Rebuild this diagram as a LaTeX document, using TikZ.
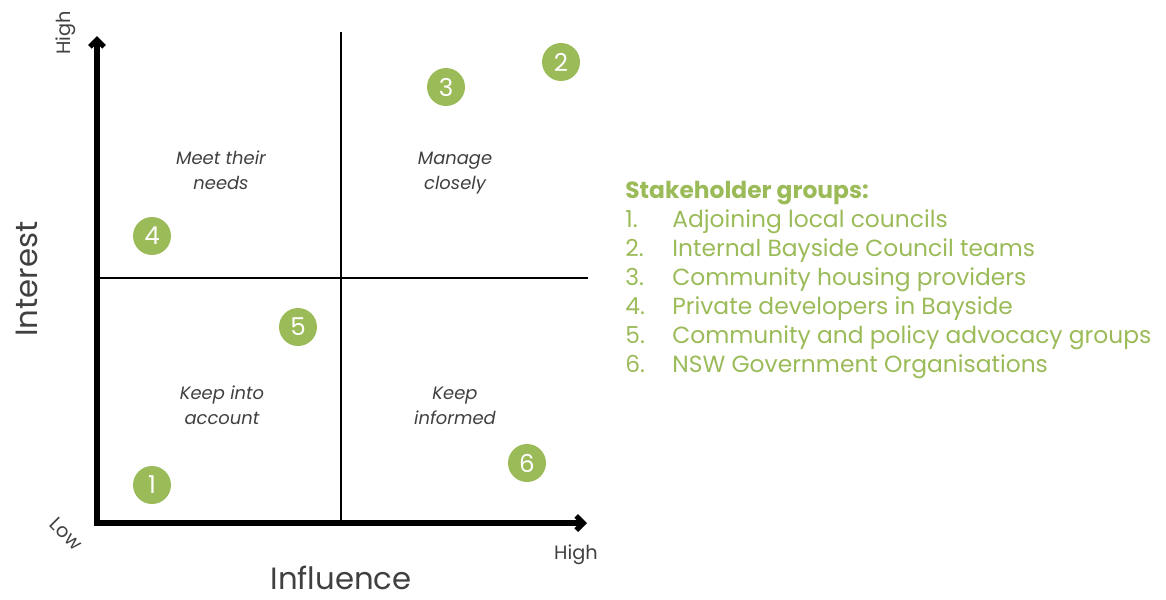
\documentclass[tikz,border=0pt]{standalone}
\usepackage{fontspec}
\setmainfont{Poppins}
\usetikzlibrary{arrows.meta,positioning}
\definecolor{leaf}{HTML}{9BBB59}
\definecolor{txtgray}{HTML}{404040}
\tikzset{
  axis/.style={line width=3pt, -{Straight Barb[length=4pt,width=8pt]}},
  split/.style={line width=1pt},
  group/.style={circle, fill=leaf, text=white, minimum size=0.76cm, inner sep=0pt, font=\fontsize{14}{14}\selectfont},
  quad/.style={align=center, font=\itshape\fontsize{10.2}{14}\selectfont, text=txtgray},
  tick/.style={font=\fontsize{11}{12}\selectfont, text=txtgray},
  big/.style={font=\fontsize{17.5}{20}\selectfont, text=txtgray},
  item/.style={anchor=base west, text=leaf, font=\fontsize{13.3}{16}\selectfont, inner sep=0pt},
}

\begin{document}
\begin{tikzpicture}[x=0.02cm, y=-0.02cm]
  \useasboundingbox (0,0) rectangle (1166,599);

  % axes
  \coordinate (origin) at (97,523);
  \coordinate (ytop) at (97,36);
  \coordinate (xend) at (587,523);
  \draw[axis] (origin) -- (ytop);
  \draw[axis] ([xshift=-1.5pt]origin) -- (xend);

  % quadrant lines
  \coordinate (vtop) at (341,32);
  \coordinate (vbot) at (341,523);
  \coordinate (hleft) at (97,278);
  \coordinate (hright) at (588,278);
  \draw[split] (vtop) -- (vbot);
  \draw[split] (hleft) -- (hright);

  % axis labels
  \node[big, rotate=90] (interest) at (27,279) {Interest};
  \node[big] (influence) at (341,578) {Influence};
  \node[tick, rotate=90] (yhigh) at (66,33) {High};
  \node[tick, rotate=-45, inner sep=0pt] (low) at (66,534) {Low};
  \node[tick] (xhigh) at (576,555) {High};

  % quadrants
  \node[quad] (meet) at (221,170) {Meet their\\needs};
  \node[quad] (manage) at (455,173) {Manage\\closely};
  \node[quad] (account) at (222,405) {Keep into\\account};
  \node[quad] (informed) at (455,406) {Keep\\informed};

  % stakeholders
  \node[group] (g1) at (152,485) {1};
  \node[group] (g2) at (561,62) {2};
  \node[group] (g3) at (446,87) {3};
  \node[group] (g4) at (152,236) {4};
  \node[group] (g5) at (298,327) {5};
  \node[group] (g6) at (527,463) {6};

  % legend
  \node[item, font=\bfseries\fontsize{13.3}{16}\selectfont] (title) at (625,198) {Stakeholder groups:};
  \foreach \n/\t [count=\i] in {1/Adjoining local councils,
      2/Internal Bayside Council teams,
      3/Community housing providers,
      4/Private developers in Bayside,
      5/Community and policy advocacy groups,
      6/NSW Government Organisations}{
    \node[item] (num\i) at (625,{198+29*\i}) {\n.};
    \node[item] (lab\i) at (672,{198+29*\i}) {\t};
  }
\end{tikzpicture}
\end{document}
